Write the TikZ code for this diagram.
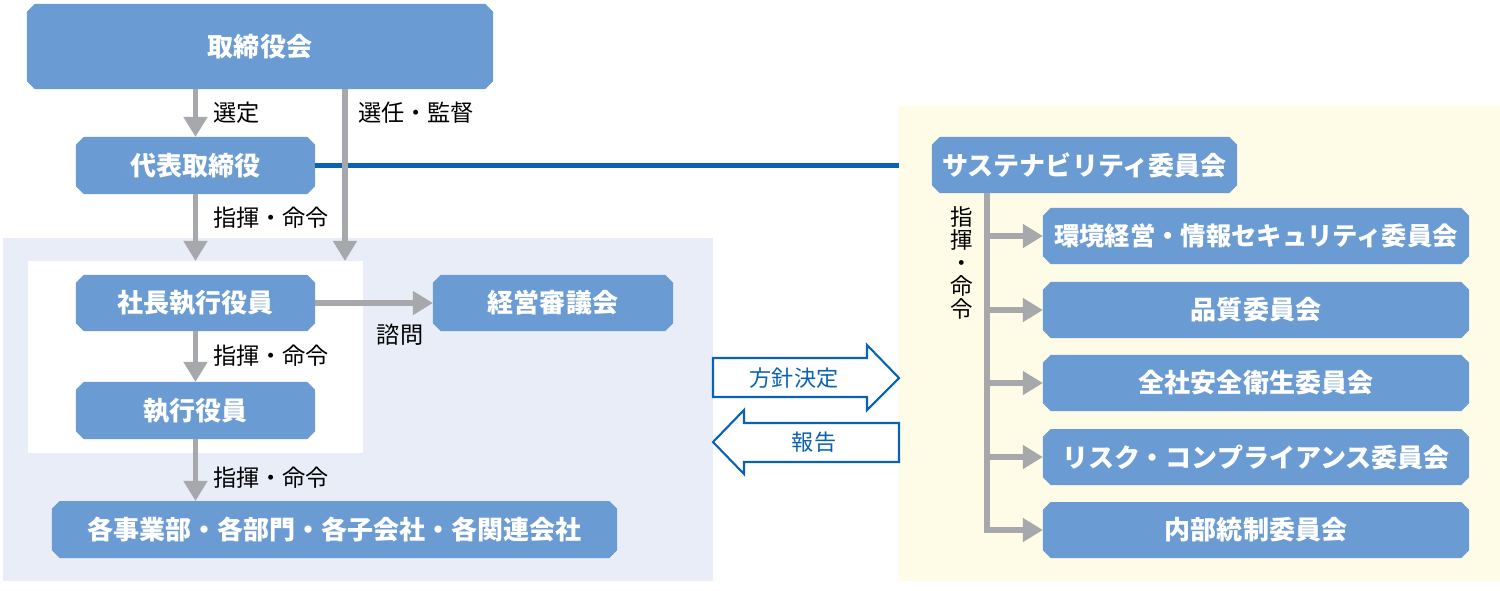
\documentclass[tikz,border=0pt]{standalone}
\usepackage{fontspec}
\setmainfont{Noto Sans CJK JP}
\usetikzlibrary{arrows.meta,calc}
\definecolor{boxblue}{RGB}{106,155,210}
\definecolor{arrowgray}{RGB}{166,168,171}
\definecolor{panelblue}{RGB}{232,237,247}
\definecolor{panelyellow}{RGB}{254,252,230}
\definecolor{lineblue}{RGB}{10,98,180}
\newcommand\bxfont{\bfseries\fontsize{7.4}{8.5}\selectfont}
\newcommand\lblfont{\fontsize{6.6}{7.5}\selectfont}
\tikzset{
  panel/.style={rectangle, anchor=north west, inner sep=0pt, outer sep=0pt, draw=none},
  box/.style={rectangle, inner sep=0pt, outer sep=0pt, text=white, font=\bxfont,
    path picture={\fill[boxblue]
      ([xshift=2.2pt]path picture bounding box.north west) --
      ([xshift=-2.2pt]path picture bounding box.north east) --
      ([yshift=-2.2pt]path picture bounding box.north east) --
      ([yshift=2.2pt]path picture bounding box.south east) --
      ([xshift=-2.2pt]path picture bounding box.south east) --
      ([xshift=2.2pt]path picture bounding box.south west) --
      ([yshift=2.2pt]path picture bounding box.south west) --
      ([yshift=-2.2pt]path picture bounding box.north west) -- cycle;}},
  lbl/.style={inner sep=0pt, outer sep=0pt, text=black, font=\lblfont},
  garrow/.style={draw=arrowgray, line width=1.7pt, -{Triangle[width=6.5pt,length=5.7pt]}},
  bline/.style={draw=lineblue, line width=1.3pt},
  hollow/.style={draw=lineblue, fill=white, line width=0.6pt, line join=miter},
  htext/.style={inner sep=0pt, text=lineblue, font=\fontsize{6.3}{7}\selectfont}
}
\begin{document}
\begin{tikzpicture}[x=0.01cm,y=-0.01cm]
\useasboundingbox (0,0) rectangle (1500,590);
% panels
\node[panel, fill=panelblue, minimum width=7.10cm, minimum height=3.43cm] (lp) at (3,238) {};
\node[panel, fill=white, minimum width=3.35cm, minimum height=1.92cm] (wp) at (28,261) {};
\node[panel, fill=panelyellow, minimum width=6.01cm, minimum height=4.75cm] (yp) at (899,106) {};
% boxes
\node[box, minimum width=4.66cm, minimum height=0.85cm] (board) at (260,46.5) {取締役会};
\node[box, minimum width=2.39cm, minimum height=0.57cm] (rep) at (195.5,165.5) {代表取締役};
\node[box, minimum width=2.39cm, minimum height=0.56cm] (pres) at (195.5,303) {社長執行役員};
\node[box, minimum width=2.40cm, minimum height=0.56cm] (keiei) at (553,303) {経営審議会};
\node[box, minimum width=2.39cm, minimum height=0.57cm] (exec) at (195.5,410.5) {執行役員};
\node[box, minimum width=5.65cm, minimum height=0.57cm] (depts) at (334.5,529.5) {各事業部・各部門・各子会社・各関連会社};
\node[box, minimum width=3.05cm, minimum height=0.56cm] (sus) at (1084.5,165) {サステナビリティ委員会};
\node[box, minimum width=4.26cm, minimum height=0.56cm, font=\bfseries\fontsize{7.2}{8}\selectfont] (c1) at (1256,236) {環境経営・情報セキュリティ委員会};
\node[box, minimum width=4.26cm, minimum height=0.56cm] (c2) at (1256,310) {品質委員会};
\node[box, minimum width=4.26cm, minimum height=0.56cm] (c3) at (1256,383) {全社安全衛生委員会};
\node[box, minimum width=4.26cm, minimum height=0.56cm] (c4) at (1256,457) {リスク・コンプライアンス委員会};
\node[box, minimum width=4.26cm, minimum height=0.56cm] (c5) at (1256,530) {内部統制委員会};
% labels
\node[lbl, anchor=west] (l1) at (213,113) {選定};
\node[lbl, anchor=west] (l2) at (358,113) {選任・監督};
\node[lbl, anchor=west] (l3) at (213,218) {指揮・命令};
\node[lbl, anchor=west] (l4) at (213,356) {指揮・命令};
\node[lbl, anchor=west] (l5) at (213,478) {指揮・命令};
\node[lbl] (l6) at (400,335) {諮問};
\node[lbl, align=center, font=\fontsize{6.4}{6.5}\selectfont] (vt) at (962,263) {指\\揮\\・\\命\\令};
% blue line
\draw[bline] (rep.east) -- (rep.east -| yp.west);
% connectors
\coordinate (selx) at (345,0);
\coordinate (vx) at (987,0);
\draw[garrow] (board.south -| rep.north) -- (rep.north);
\draw[garrow] (board.south -| selx) -- (wp.north -| selx);
\draw[garrow] (rep.south) -- (rep.south |- wp.north);
\draw[garrow] (pres.south) -- (exec.north);
\draw[garrow] (exec.south) -- (exec.south |- depts.north);
\draw[garrow] (pres.east) -- (keiei.west);
\draw[garrow, line width=1.5pt] (sus.south -| vx) -- (c5.west -| vx) -- (c5.west);
\foreach \c in {c1,c2,c3,c4}
  \draw[garrow, line width=1.5pt] (\c.west -| vx) -- (\c.west);
% hollow arrows
\draw[hollow] (713,358) -- (867,358) -- (867,345) -- (899,378) -- (867,410) -- (867,397) -- (713,397) -- cycle;
\node[htext] (policy) at (794,378) {方針決定};
\draw[hollow] (899,423) -- (744,423) -- (744,410) -- (713,442) -- (744,474) -- (744,462) -- (899,462) -- cycle;
\node[htext] (report) at (814,442) {報告};
\end{tikzpicture}
\end{document}
